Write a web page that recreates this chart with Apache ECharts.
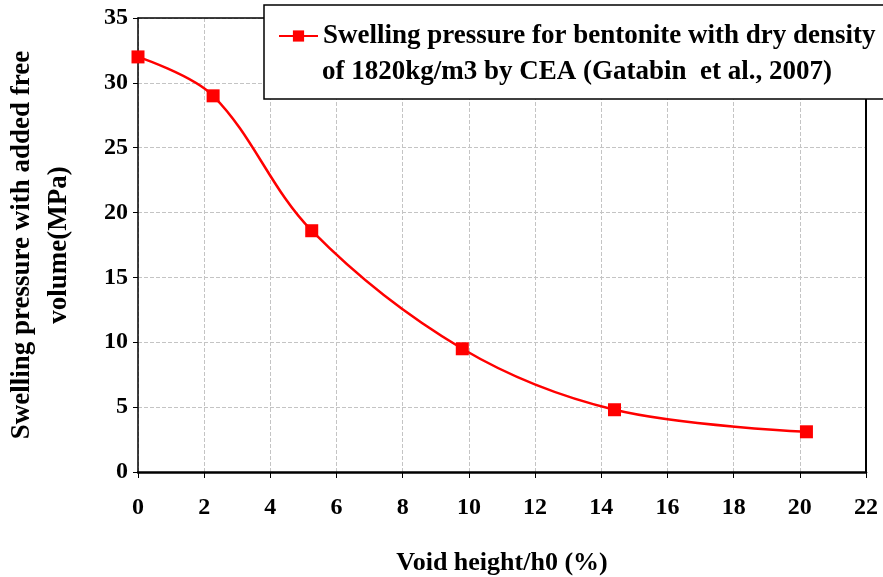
<!DOCTYPE html>
<html>
<head>
<meta charset="utf-8">
<script src="https://cdn.jsdelivr.net/npm/echarts@6/dist/echarts.min.js"></script>
<style>
  html, body { margin: 0; padding: 0; background: #fff; }
  #chart { width: 883px; height: 577px; }
</style>
</head>
<body>
<div id="chart"></div>
<script>
// valores
const voidHeight = [0, 2.27, 5.25, 9.8, 14.4, 20.2];
const pressure = [32, 29, 18.6, 9.5, 4.8, 3.1];
const legendLines = [
  'Swelling pressure for bentonite with dry density',
  'of 1820kg/m3 by CEA (Gatabin  et al., 2007)'
];
const seriesName = legendLines.join(' ');

const chart = echarts.init(document.getElementById('chart'));
const font = '"Liberation Serif", "Times New Roman", serif';
const gridLine = { show: true, lineStyle: { color: '#c4c4c4', type: 'dashed' } };
const legendFont = { fontFamily: font, fontWeight: 'bold', fontSize: 27, color: '#000' };

chart.setOption({
  animation: false,
  grid: {
    left: 138, right: 17, top: 18, bottom: 105,
    outerBoundsMode: 'none'
  },
  // caixa da legenda + segunda linha do texto
  graphic: [{
    type: 'rect',
    shape: { x: 264, y: 5, width: 660, height: 94 },
    style: { fill: '#fff', stroke: '#000', lineWidth: 1.5 },
    z: 10
  }, {
    type: 'text',
    x: 322, y: 72,
    style: {
      text: legendLines[1], verticalAlign: 'middle',
      font: 'bold 27px ' + font, fill: '#000'
    },
    z: 20
  }],
  legend: {
    left: 278, top: 18,
    padding: 0,
    itemWidth: 39, itemHeight: 14,
    z: 20,
    formatter: () => legendLines[0],
    textStyle: Object.assign({ lineHeight: 36 }, legendFont),
    data: [seriesName]
  },
  xAxis: [{
    type: 'value', min: 0, max: 22, interval: 2,
    name: 'Void height/h0 (%)',
    nameLocation: 'middle', nameGap: 78,
    nameTextStyle: { fontFamily: font, fontWeight: 'bold', fontSize: 26, color: '#000' },
    axisLine: { show: true, onZero: false, lineStyle: { color: '#000', width: 2.5 } },
    axisTick: { show: true, inside: false, length: 6, lineStyle: { color: '#000' } },
    axisLabel: { margin: 24, fontFamily: font, fontWeight: 'bold', fontSize: 24, color: '#000' },
    splitLine: gridLine
  }, {
    type: 'value', min: 0, max: 22, position: 'top',
    axisLine: { show: true, onZero: false, lineStyle: { color: '#000', width: 1.5 } },
    axisTick: { show: false }, axisLabel: { show: false }, splitLine: { show: false }
  }],
  yAxis: [{
    type: 'value', min: 0, max: 35, interval: 5,
    name: 'Swelling pressure with added free\nvolume(MPa)',
    nameLocation: 'middle', nameGap: 60,
    nameTextStyle: { fontFamily: font, fontWeight: 'bold', fontSize: 27, color: '#000', lineHeight: 37 },
    axisLine: { show: true, lineStyle: { color: '#000', width: 1.5 } },
    axisTick: { show: true, inside: false, length: 5, lineStyle: { color: '#000' } },
    axisLabel: { margin: 10, fontFamily: font, fontWeight: 'bold', fontSize: 24, color: '#000' },
    splitLine: gridLine
  }, {
    type: 'value', min: 0, max: 35, position: 'right',
    axisLine: { show: true, onZero: false, lineStyle: { color: '#000', width: 2 } },
    axisTick: { show: false }, axisLabel: { show: false }, splitLine: { show: false }
  }],
  series: [{
    name: seriesName,
    type: 'line',
    smooth: 0.35,
    data: voidHeight.map((x, i) => [x, pressure[i]]),
    symbol: 'rect',
    symbolSize: 13,
    itemStyle: { color: '#ff0000' },
    lineStyle: { color: '#ff0000', width: 2.5 }
  }]
});
</script>
</body>
</html>
